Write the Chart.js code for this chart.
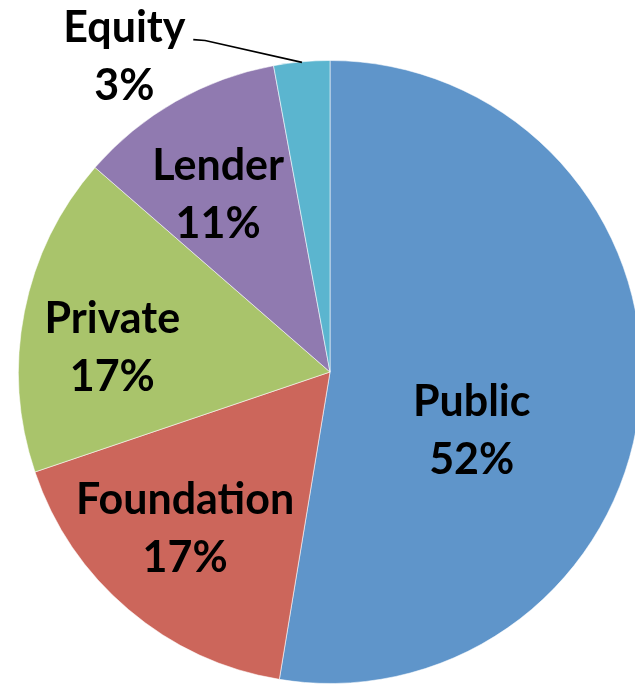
<!DOCTYPE html>
<html>
<head>
<meta charset="utf-8">
<script src="https://cdn.jsdelivr.net/npm/chart.js@4/dist/chart.umd.min.js"></script>
<style>
html,body{margin:0;padding:0;background:#fff;overflow:hidden;width:635px;height:684px;}
#wrap{position:absolute;left:0;top:0;width:660px;height:744px;}
</style>
</head>
<body>
<div id="wrap"><canvas id="c" width="660" height="744"></canvas></div>
<script>
const categories = ["Public", "Foundation", "Private", "Lender", "Equity"];
const shares = [52.6, 17.2, 16.6, 10.7, 2.9];
const percentLabels = ["52%", "17%", "17%", "11%", "3%"];
const colors = ["#5F95CA", "#CC665B", "#A9C46B", "#907AB0", "#5BB5CF"];

// label anchor offsets (fraction of radius from the pie center)
const labelOffsets = [[0.455,0.19],[-0.465,0.506],[-0.699,-0.077],[-0.359,-0.567],[-0.660,-1.010]];
const leader = {index:4, pts:[[-0.439,-1.067],[-0.401,-1.064],[-0.090,-0.994]]};

const labelPlugin = {
  id:'sliceLabels',
  afterDraw(chart){
    const ctx = chart.ctx;
    const meta = chart.getDatasetMeta(0);
    const a0 = meta.data[0];
    const cx = a0.x, cy = a0.y, R = a0.outerRadius;
    ctx.save();
    ctx.strokeStyle = '#000';
    ctx.lineWidth = 1.6;
    ctx.beginPath();
    leader.pts.forEach((p,i)=>{
      const x = cx + p[0]*R, y = cy + p[1]*R;
      if(i===0) ctx.moveTo(x,y); else ctx.lineTo(x,y);
    });
    ctx.stroke();
    ctx.fillStyle = '#000';
    ctx.font = 'bold 43px Lato';
    ctx.textAlign = 'center';
    ctx.textBaseline = 'middle';
    meta.data.forEach((arc,i)=>{
      const x = cx + labelOffsets[i][0]*R;
      const y = cy + labelOffsets[i][1]*R;
      ctx.fillText(categories[i], x, y-29);
      ctx.fillText(percentLabels[i], x, y+29);
    });
    ctx.restore();
  }
};

new Chart(document.getElementById('c'), {
  type:'pie',
  data:{
    labels: categories,
    datasets:[{
      data: shares,
      backgroundColor: colors,
      borderColor: 'rgba(255,255,255,0.55)',
      borderWidth: 1
    }]
  },
  options:{
    responsive:false,
    animation:false,
    layout:{padding:18},
    plugins:{legend:{display:false}, tooltip:{enabled:false}}
  },
  plugins:[labelPlugin]
});
</script>
</body>
</html>
